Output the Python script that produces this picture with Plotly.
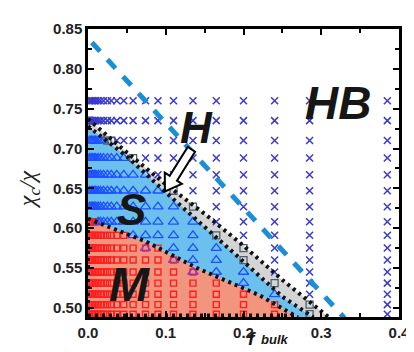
import numpy as np
import plotly.graph_objects as go

# ---------------- data ----------------
# columns (f_bulk) and rows (chi_c/chi) of the simulated state points
f_cols = [0.002, 0.004, 0.006, 0.008, 0.010, 0.013, 0.016, 0.020, 0.025, 0.030,
          0.037, 0.046, 0.058, 0.074, 0.090, 0.110, 0.135, 0.165, 0.200, 0.240,
          0.285, 0.385]
chi_rows = [0.760, 0.735, 0.710, 0.688, 0.667, 0.647, 0.627, 0.608, 0.591,
            0.575, 0.560, 0.545, 0.531, 0.517, 0.504, 0.492]

# phase boundaries
ms_f = [0.0, 0.075, 0.140, 0.190, 0.220, 0.270]
ms_chi = [0.612, 0.583, 0.550, 0.529, 0.516, 0.488]
hlow_f = [0.0, 0.050, 0.100, 0.150, 0.200, 0.250, 0.290]
hlow_chi = [0.728, 0.690, 0.645, 0.602, 0.558, 0.514, 0.488]
hup_f = [0.0, 0.050, 0.100, 0.150, 0.200, 0.250, 0.310]
hup_chi = [0.737, 0.695, 0.655, 0.618, 0.578, 0.535, 0.488]

# blue dashed line
dash_f = [0.005, 0.330]
dash_chi = [0.833, 0.487]

# extra (boundary) state points
purple_tri_f = [0.074, 0.110, 0.135]
purple_tri_chi = [0.575, 0.560, 0.545]

# labels
phase_names = ["HB", "H", "S", "M"]
phase_f = [0.322, 0.140, 0.056, 0.054]
phase_chi = [0.757, 0.726, 0.624, 0.529]
phase_size = [46, 44, 44, 48]

arrow_tail = (0.133, 0.699)
arrow_tip = (0.099, 0.646)

XR = [0.0, 0.4]
YR = [0.4885, 0.85]

# ---------------- figure ----------------
fig = go.Figure()

# M region (salmon)
fig.add_trace(go.Scatter(x=[0.0] + ms_f + [0.0], y=[YR[0]] + ms_chi + [YR[0]],
                         fill="toself", fillcolor="#F2957F", mode="lines",
                         line=dict(width=0), hoverinfo="skip", showlegend=False))
# S region (blue)
fig.add_trace(go.Scatter(x=ms_f + hlow_f[::-1], y=ms_chi + hlow_chi[::-1],
                         fill="toself", fillcolor="#6CC0EE",
                         mode="lines", line=dict(width=0), hoverinfo="skip",
                         showlegend=False))
# H band (grey)
fig.add_trace(go.Scatter(x=hlow_f + hup_f[::-1], y=hlow_chi + hup_chi[::-1],
                         fill="toself", fillcolor="#D4D4D4",
                         mode="lines", line=dict(width=0), hoverinfo="skip",
                         showlegend=False))

# classify state points by the region they sit in
pts = {"HB": ([], []), "H": ([], []), "S": ([], []), "M": ([], [])}
for yv in chi_rows:
    for xv in f_cols:
        if yv > np.interp(xv, hup_f, hup_chi):
            k = "HB"
        elif yv > np.interp(xv, hlow_f, hlow_chi):
            k = "H"
        elif yv > np.interp(xv, ms_f, ms_chi):
            k = "S"
        else:
            k = "M"
        pts[k][0].append(xv)
        pts[k][1].append(yv)

fig.add_trace(go.Scatter(x=pts["M"][0], y=pts["M"][1], mode="markers",
                         marker=dict(symbol="square-open", size=6, color="#FF1E1E",
                                     line=dict(width=1.4)), showlegend=False))
fig.add_trace(go.Scatter(x=pts["S"][0], y=pts["S"][1], mode="markers",
                         marker=dict(symbol="triangle-up-open", size=9, color="#1E50FF",
                                     line=dict(width=1.3)), showlegend=False))
fig.add_trace(go.Scatter(x=pts["H"][0], y=pts["H"][1], mode="markers",
                         marker=dict(symbol="square-open", size=7, color="#4A6270",
                                     line=dict(width=1.3)), showlegend=False))
fig.add_trace(go.Scatter(x=pts["HB"][0], y=pts["HB"][1], mode="markers",
                         marker=dict(symbol="x-thin", size=7, color="#3A3ACC",
                                     line=dict(width=1.5, color="#3A3ACC")), showlegend=False))
fig.add_trace(go.Scatter(x=purple_tri_f, y=purple_tri_chi, mode="markers",
                         marker=dict(symbol="triangle-up-open", size=9, color="#8A3CC8",
                                     line=dict(width=1.3)), showlegend=False))

# dotted boundaries
dot = dict(color="#111111", width=4, dash="3px,4px")
for xs, ys in [(ms_f, ms_chi), (hlow_f, hlow_chi), (hup_f, hup_chi),
               ([0.0, 0.0], [YR[0], ms_chi[0]]),
               ([0.0, ms_f[-1]], [YR[0] + 0.002, YR[0] + 0.002])]:
    fig.add_trace(go.Scatter(x=xs, y=ys, mode="lines", line=dot,
                             hoverinfo="skip", showlegend=False))

# blue dashed line
fig.add_trace(go.Scatter(x=dash_f, y=dash_chi, mode="lines",
                         line=dict(color="#1B8FD6", width=5, dash="12px,11px"),
                         hoverinfo="skip", showlegend=False))

# hollow block arrow (built in pixel space, converted to data units)
W, H_ = 322, 291
sx_ = W / (XR[1] - XR[0])
sy_ = H_ / (YR[1] - YR[0])
tail = np.array([arrow_tail[0] * sx_, arrow_tail[1] * sy_])
tip = np.array([arrow_tip[0] * sx_, arrow_tip[1] * sy_])
d = tip - tail
u = d / np.hypot(*d)
n = np.array([-u[1], u[0]])
shaft, head_w, head_l = 4.5, 10.5, 16
base = tip - u * head_l
poly = [tail + n * shaft, base + n * shaft, base + n * head_w, tip,
        base - n * head_w, base - n * shaft, tail - n * shaft]
path = "M " + " L ".join(f"{p[0]/sx_:.5f},{p[1]/sy_:.5f}" for p in poly) + " Z"
fig.add_shape(type="path", path=path, xref="x", yref="y", fillcolor="white",
              line=dict(color="black", width=2), layer="above")

# phase labels
for name, xv, yv, sz in zip(phase_names, phase_f, phase_chi, phase_size):
    fig.add_annotation(x=xv, y=yv, text=f"<b><i>{name}</i></b>", showarrow=False,
                       font=dict(family="Liberation Sans, Arial", size=sz, color="#161616"),
                       xanchor="center", yanchor="middle")

# axis titles
fig.add_annotation(xref="paper", yref="paper", x=0.547, y=-0.117,
                   text="<b><i>f</i></b>", showarrow=False,
                   xanchor="right", yanchor="bottom",
                   font=dict(family="Liberation Sans, Arial", size=19, color="#161616"))
fig.add_annotation(xref="paper", yref="paper", x=0.550, y=-0.079,
                   text="<b><i>bulk</i></b>", showarrow=False,
                   xanchor="left", yanchor="middle",
                   font=dict(family="Liberation Sans, Arial", size=13, color="#161616"))
fig.add_annotation(xref="paper", yref="paper", x=-0.19, y=0.447,
                   text="<i>χ<sub>c</sub>/χ</i>", showarrow=False, textangle=-90,
                   xanchor="center", yanchor="middle",
                   font=dict(family="Liberation Serif, Times New Roman", size=24, color="#222222"))

axis_common = dict(showline=True, linewidth=2.5, linecolor="black", mirror="ticks",
                   ticks="inside", ticklen=6, tickwidth=2, tickcolor="black",
                   showgrid=False, zeroline=False,
                   tickfont=dict(family="Liberation Sans, Arial", size=15, color="#222222"))
fig.update_xaxes(range=XR, dtick=0.1, tick0=0, tickformat=".1f",
                 tickprefix="<b>", ticksuffix="</b>",
                 minor=dict(dtick=0.05, ticks="inside", ticklen=4, tickwidth=1.5, tickcolor="black"),
                 **axis_common)
fig.update_yaxes(range=YR, dtick=0.05, tick0=0.5, tickformat=".2f",
                 tickprefix="<b>", ticksuffix="</b>",
                 minor=dict(dtick=0.025, ticks="inside", ticklen=4, tickwidth=1.5, tickcolor="black"),
                 **axis_common)
fig.update_layout(width=414, height=352, margin=dict(l=80, r=12, t=18, b=43),
                  plot_bgcolor="white", paper_bgcolor="white")

fig.write_html("out.html")
